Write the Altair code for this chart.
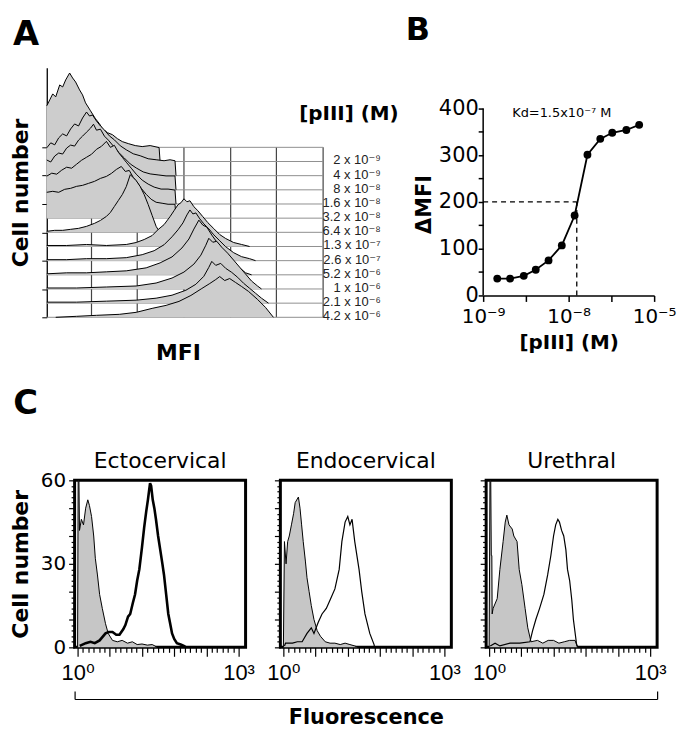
import altair as alt
import pandas as pd

FONT = "DejaVu Sans"
NUM_FONT = "Liberation Sans, DejaVu Sans"

# ---------------- Panel A : stacked MFI histograms ----------------
A_ROWS = [171, 156.75, 142.5, 128.25, 114, 99.75, 85.5, 71.25, 57, 42.75, 28.5, 14.25, 0]
A_VGRID = [45, 91, 138, 185, 231, 278]
A_CONC = ["2 x 10⁻⁹", "4 x 10⁻⁹", "8 x 10⁻⁸", "1.6 x 10⁻⁸", "3.2 x 10⁻⁸", "6.4 x 10⁻⁸",
          "1.3 x 10⁻⁷", "2.6 x 10⁻⁷", "5.2 x 10⁻⁶", "1 x 10⁻⁶", "2.1 x 10⁻⁶", "4.2 x 10⁻⁶"]

H0_MFI = [0, 3, 6, 9, 13, 16, 19, 23, 26, 29, 33, 36, 39, 44, 49, 53, 56, 61, 66, 71, 76, 82, 89, 96, 104, 113, 114]
H0_CELLS = [56, 62, 68, 65, 77, 75, 82, 89, 84, 80, 72, 67, 59, 51, 43, 38, 33, 29, 27, 23, 20, 18, 16, 15, 16, 14, 0]
H1_MFI = [0, 4, 8, 12, 16, 20, 24, 28, 32, 36, 40, 43, 46, 50, 54, 58, 63, 68, 74, 80, 87, 94, 102, 110, 118, 124, 129, 130]
H1_CELLS = [28, 33, 31, 38, 42, 40, 47, 52, 50, 58, 64, 60, 61, 55, 50, 46, 40, 36, 30, 26, 22, 20, 17, 16, 15, 16, 15, 0]
H2_MFI = [0, 4, 8, 12, 16, 20, 24, 28, 32, 36, 40, 44, 47, 50, 54, 58, 62, 67, 72, 78, 84, 90, 97, 104, 112, 120, 129, 130]
H2_CELLS = [30, 28, 34, 37, 36, 42, 45, 44, 50, 54, 58, 62, 66, 60, 61, 54, 50, 44, 38, 32, 26, 22, 18, 16, 15, 14, 14, 0]
H3_MFI = [0, 5, 10, 15, 20, 25, 30, 35, 40, 45, 50, 55, 60, 64, 68, 72, 76, 80, 85, 90, 96, 102, 108, 115, 122, 129, 130]
H3_CELLS = [28, 31, 30, 34, 37, 36, 40, 44, 47, 50, 55, 58, 63, 57, 59, 52, 47, 42, 36, 30, 24, 20, 17, 15, 15, 14, 0]
H4_MFI = [0, 6, 12, 18, 24, 30, 36, 42, 48, 54, 60, 65, 70, 75, 79, 83, 87, 91, 95, 100, 105, 110, 116, 122, 129, 130]
H4_CELLS = [26, 27, 26, 29, 30, 32, 33, 35, 37, 40, 42, 45, 49, 52, 47, 48, 41, 36, 30, 24, 19, 16, 15, 14, 14, 0]
H5_MFI = [0, 8, 16, 24, 32, 40, 48, 54, 60, 64, 68, 72, 76, 80, 84, 87, 90, 94, 98, 102, 106, 110, 113, 120, 130, 140, 150]
H5_CELLS = [1, 2, 2, 3, 4, 6, 9, 12, 16, 20, 26, 32, 38, 46, 58, 55, 52, 46, 38, 28, 17, 6, 1, 1, 1, 1, 0]
H6_MFI = [0, 20, 40, 60, 80, 90, 98, 106, 112, 118, 124, 128, 132, 135, 138, 141, 144, 148, 152, 157, 162, 168, 174, 180, 188, 196, 204]
H6_CELLS = [1, 1, 2, 1, 2, 4, 7, 11, 17, 22, 30, 36, 42, 44, 48, 45, 46, 40, 36, 30, 24, 18, 12, 8, 4, 2, 0]
H7_MFI = [0, 20, 40, 60, 80, 96, 108, 118, 126, 132, 137, 141, 144, 147, 150, 154, 158, 163, 168, 174, 180, 188, 196, 204, 210]
H7_CELLS = [1, 1, 2, 2, 3, 6, 10, 16, 24, 31, 38, 46, 51, 47, 48, 42, 37, 32, 26, 20, 14, 8, 4, 2, 0]
H8_MFI = [0, 20, 40, 60, 80, 100, 114, 126, 136, 143, 148, 153, 157, 161, 166, 171, 176, 182, 188, 194, 200, 206]
H8_CELLS = [1, 2, 2, 3, 4, 7, 12, 18, 27, 36, 46, 55, 50, 48, 40, 33, 26, 19, 13, 7, 2, 0]
H9_MFI = [0, 30, 60, 90, 110, 126, 138, 148, 155, 160, 163, 167, 171, 176, 182, 188, 194, 200, 206, 212, 216]
H9_CELLS = [1, 1, 2, 3, 6, 11, 17, 25, 34, 44, 51, 47, 48, 42, 36, 29, 22, 15, 8, 3, 0]
H10_MFI = [0, 30, 60, 90, 110, 126, 140, 150, 158, 163, 166, 170, 175, 180, 186, 192, 198, 204, 210, 216, 223]
H10_CELLS = [1, 1, 2, 3, 5, 8, 13, 19, 27, 36, 42, 38, 40, 35, 31, 26, 20, 15, 10, 5, 0]
H11_MFI = [9, 30, 50, 73, 90, 106, 120, 133, 145, 156, 164, 170, 174, 179, 184, 190, 196, 203, 212, 220, 228]
H11_CELLS = [0, 1, 2, 3, 5, 9, 12, 16, 22, 29, 34, 38, 41, 37, 39, 35, 31, 26, 18, 10, 0]

A_HISTS = [(H0_MFI, H0_CELLS), (H1_MFI, H1_CELLS), (H2_MFI, H2_CELLS), (H3_MFI, H3_CELLS),
           (H4_MFI, H4_CELLS), (H5_MFI, H5_CELLS), (H6_MFI, H6_CELLS), (H7_MFI, H7_CELLS),
           (H8_MFI, H8_CELLS), (H9_MFI, H9_CELLS), (H10_MFI, H10_CELLS), (H11_MFI, H11_CELLS)]

# ---------------- Panel B : titration curve ----------------
B_CONC_POS = [0.33, 0.63, 0.95, 1.23, 1.53, 1.84, 2.14, 2.44, 2.74, 3.02, 3.35, 3.65]
B_DMFI = [36, 36, 42, 55, 75, 107, 171, 301, 335, 348, 354, 365]
B_TICKS = [0, 1, 2, 3, 4]
B_TICK_LABELS = ["10⁻⁹", "", "10⁻⁸", "", "10⁻⁵"]
B_YTICKS = [0, 50, 100, 150, 200, 250, 300, 350, 400]
KD_POS = 2.19
KD_HALF = 200
KD_TEXT = "Kd=1.5x10⁻⁷ M"

# ---------------- Panel C : flow histograms (log10 fluorescence) ----------------
C_TICKS = [round(0.1 * k, 1) for k in range(31)]
C_YTICKS = list(range(0, 61, 2))
C_NAMES = ["Ectocervical", "Endocervical", "Urethral"]

ECTO_CTRL_X = [0.0, 0.01, 0.025, 0.035, 0.07, 0.11, 0.15, 0.19, 0.22, 0.26, 0.30, 0.33, 0.37, 0.41, 0.46,
               0.52, 0.57, 0.65, 0.74, 0.83, 0.93, 1.02, 1.11, 1.20, 1.30, 1.39, 1.44, 1.48]
ECTO_CTRL_N = [0, 60, 60, 42, 46, 44, 50, 53, 51, 47, 40, 32, 26, 19, 14,
               8.5, 5, 2.5, 2, 2.5, 1.5, 2, 1, 1.2, 0.8, 1, 0.5, 0]
ECTO_PIII_X = [0.04, 0.15, 0.24, 0.32, 0.41, 0.52, 0.58, 0.65, 0.72, 0.78, 0.85, 0.89, 0.94, 0.98, 1.03,
               1.07, 1.11, 1.15, 1.20, 1.24, 1.28, 1.31, 1.33, 1.35, 1.37, 1.40, 1.43, 1.46, 1.50, 1.54,
               1.58, 1.61, 1.65, 1.69, 1.72, 1.76, 1.80, 1.85, 1.92, 1.98, 2.02]
ECTO_PIII_N = [0.5, 1.5, 2, 1.5, 2.5, 5, 5.5, 5.5, 4.5, 4.5, 6.5, 8, 11, 12, 16,
               19, 24, 28, 36, 43, 49, 53, 56, 59, 58, 53, 50, 46, 40, 35,
               30, 26, 19, 12, 9, 5, 3, 1.5, 1, 0.5, 0]

ENDO_CTRL_X = [0.0, 0.02, 0.05, 0.08, 0.11, 0.15, 0.19, 0.22, 0.28, 0.31, 0.34, 0.37, 0.41, 0.44, 0.48,
               0.52, 0.57, 0.63, 0.69, 0.78, 0.87, 0.96, 1.06, 1.15, 1.24, 1.33, 1.39]
ENDO_CTRL_N = [0, 38, 30, 38, 40, 44, 48, 52, 54, 50, 44, 38, 31, 25, 20,
               15, 10, 6, 4, 2, 1.5, 1.5, 1, 1.5, 1, 0.5, 0]
ENDO_PIII_X = [0.02, 0.04, 0.17, 0.26, 0.35, 0.44, 0.52, 0.57, 0.65, 0.72, 0.80, 0.87, 0.96, 1.04, 1.09,
               1.15, 1.20, 1.24, 1.28, 1.33, 1.41, 1.46, 1.52, 1.61, 1.69, 1.70]
ENDO_PIII_N = [0.5, 1.5, 1.5, 2, 2, 5, 7, 5, 9, 12, 14, 17, 21, 28, 38,
               45, 47, 44, 46, 38, 28, 20, 12, 5, 1, 0]

URE_CTRL_X = [0.0, 0.015, 0.03, 0.04, 0.05, 0.056, 0.074, 0.15, 0.20, 0.26, 0.30, 0.33, 0.37, 0.43, 0.46,
              0.52, 0.56, 0.61, 0.67, 0.72, 0.78, 0.90, 1.00, 1.10, 1.20, 1.30, 1.40, 1.50, 1.60, 1.65]
URE_CTRL_N = [0, 60, 60, 33, 33, 12, 14, 17.5, 28, 38, 45, 47.5, 44, 42.5, 40,
              38, 28, 22.5, 14, 7, 2, 2.5, 1.5, 2.5, 2.5, 1.5, 2, 2.5, 2.5, 0]
URE_PIII_X = [0.02, 0.11, 0.20, 0.39, 0.57, 0.76, 0.81, 0.87, 0.94, 1.02, 1.09, 1.15, 1.20, 1.24, 1.28,
              1.31, 1.35, 1.39, 1.43, 1.46, 1.50, 1.54, 1.57, 1.61, 1.63, 1.65]
URE_PIII_N = [0.5, 1.5, 0.5, 1.5, 1.5, 2, 6, 10, 14, 19, 26, 33, 40, 44, 46,
              45, 42, 40, 35, 28, 24, 17, 10, 4, 1, 0]

BRACKET_ENDS = [0, 1]


def text_layer(x, y, t, enc_x, enc_y, **kw):
    return (alt.Chart(pd.DataFrame({"x": [x], "y": [y], "t": [t]}))
            .mark_text(**kw).encode(x=enc_x, y=enc_y, text="t:N"))


LETTER = dict(fontSize=34, fontWeight="bold", font=FONT, align="left", baseline="alphabetic", color="black")

# ================= Panel A chart =================
# the plot rectangle starts where the panels below start; the MFI axis origin sits 28 units further left
A_X0, A_X1 = 28, 278
A_AXIS_SHIFT = 28
A_Y1 = 251


def xA():
    return alt.X("x:Q", scale=alt.Scale(domain=[A_X0, A_X1], nice=False, zero=False),
                 axis=alt.Axis(title="MFI", domain=False, ticks=False, labels=False, grid=False,
                               titleFontSize=22, titleFontWeight="bold", titlePadding=25, titleX=104))


def yA():
    return alt.Y("y:Q", scale=alt.Scale(domain=[0, A_Y1], nice=False, zero=False),
                 axis=alt.Axis(title="Cell number", values=A_ROWS[::2], labels=False, tickSize=5,
                               offset=A_AXIS_SHIFT, tickColor="black", domainColor="black", domainWidth=1.3,
                               grid=False, titleFontSize=22, titleFontWeight="bold", titlePadding=9))


a_layers = []
a_layers.append(
    alt.Chart(pd.DataFrame({"x": A_VGRID, "y": [0] * len(A_VGRID), "y2": [A_ROWS[0]] * len(A_VGRID)}))
    .mark_rule(color="#444444", strokeWidth=1.2)
    .encode(x=xA(), y=yA(), y2="y2:Q")
)
a_layers.append(
    alt.Chart(pd.DataFrame({"y": A_ROWS, "x": [0] * len(A_ROWS), "x2": [A_VGRID[-1]] * len(A_ROWS)}))
    .mark_rule(color="#8f8f8f", strokeWidth=1)
    .encode(x=xA(), x2="x2:Q", y=yA())
)
for k, (mfi, cells) in enumerate(A_HISTS):
    base = A_ROWS[k + 1]
    df = pd.DataFrame({"x": mfi, "y": [base + c for c in cells], "y2": [base] * len(mfi)})
    a_layers.append(alt.Chart(df).mark_area(color="#cdcdcd", opacity=1).encode(x=xA(), y=yA(), y2="y2:Q"))
    a_layers.append(alt.Chart(df).mark_line(color="black", strokeWidth=1).encode(x=xA(), y=yA()))

LABEL_COL = 336
a_layers.append(
    alt.Chart(pd.DataFrame({"x": [LABEL_COL] * len(A_CONC), "y": A_ROWS[1:], "t": A_CONC}))
    .mark_text(align="right", baseline="middle", fontSize=13, font=NUM_FONT, color="#222222", dy=-1)
    .encode(x=xA(), y=yA(), text="t:N")
)
a_layers.append(text_layer(304, 204, "[pIII] (M)", xA(), yA(), align="center", baseline="middle",
                           fontSize=20, fontWeight="bold", font=FONT, color="black"))
a_layers.append(text_layer(-34, 274, "A", xA(), yA(), **LETTER))

panelA = alt.layer(*a_layers).properties(width=250, height=251)

# ================= Panel B chart =================
b_expr = " : ".join(f"datum.value === {v} ? '{lab}'" for v, lab in zip(B_TICKS, B_TICK_LABELS) if lab) + " : ''"


def xB():
    return alt.X("x:Q", scale=alt.Scale(domain=[B_TICKS[0], B_TICKS[-1]], nice=False, zero=False),
                 axis=alt.Axis(values=B_TICKS, labelExpr=b_expr, tickSize=6, tickWidth=1.5, domainWidth=1.5,
                               domainColor="black", tickColor="black", labelFontSize=20, labelPadding=5,
                               labelFlush=False, labelOverlap=False, grid=False,
                               title="[pIII] (M)", titleFontSize=20, titleFontWeight="bold", titlePadding=6))


def yB():
    return alt.Y("y:Q", scale=alt.Scale(domain=[0, 487], nice=False, zero=False),
                 axis=alt.Axis(values=B_YTICKS, labelExpr="datum.value % 100 === 0 ? datum.label : ''",
                               domain=False, tickSize=5, tickWidth=1.5, tickColor="black", labelFontSize=21,
                               labelPadding=0, labelOverlap=False, grid=False,
                               title="ΔMFI", titleFontSize=21, titleFontWeight="bold", titlePadding=4,
                               titleY=137))


b_layers = [
    alt.Chart(pd.DataFrame({"x": [0], "y": [0], "y2": [B_YTICKS[-1]]}))
    .mark_rule(color="black", strokeWidth=1.5).encode(x=xB(), y=yB(), y2="y2:Q"),
    alt.Chart(pd.DataFrame({"x": [0], "x2": [KD_POS], "y": [KD_HALF]}))
    .mark_rule(color="black", strokeWidth=1.3, strokeDash=[5, 4]).encode(x=xB(), x2="x2:Q", y=yB()),
    alt.Chart(pd.DataFrame({"x": [KD_POS], "y": [0], "y2": [KD_HALF]}))
    .mark_rule(color="black", strokeWidth=1.3, strokeDash=[5, 4]).encode(x=xB(), y=yB(), y2="y2:Q"),
    alt.Chart(pd.DataFrame({"x": B_CONC_POS, "y": B_DMFI}))
    .mark_line(color="black", strokeWidth=1.8).encode(x=xB(), y=yB()),
    alt.Chart(pd.DataFrame({"x": B_CONC_POS, "y": B_DMFI}))
    .mark_circle(color="black", size=62, opacity=1).encode(x=xB(), y=yB()),
    text_layer(1.84, 391, KD_TEXT, xB(), yB(), fontSize=13, font=FONT, align="center",
               baseline="middle", color="black"),
    text_layer(-1.81, 547, "B", xB(), yB(), **dict(LETTER, fontSize=32)),
]
panelB = alt.layer(*b_layers).properties(width=172, height=229)

# ================= Panel C charts =================
c_xexpr = "datum.value === 0 ? '10⁰' : (datum.value === 3 ? '10³' : '')"
C_DOMAIN = [-0.056, 3.13]
C_MID = (C_DOMAIN[0] + C_DOMAIN[1]) / 2


def make_c(name, cx, cn, px, pn, pwidth, first):
    xc = alt.X("x:Q", scale=alt.Scale(domain=C_DOMAIN, nice=False, zero=False),
               axis=alt.Axis(values=C_TICKS, labelExpr=c_xexpr, domain=False, grid=False,
                             tickSize={"condition": {"test": "round(datum.value * 10) % 6 === 0", "value": 9},
                                       "value": 5},
                             tickColor="black", tickWidth=1.2, labelFont=NUM_FONT, labelFontSize=22,
                             labelPadding=6, labelFlush=False, labelOverlap=False, title=None))
    yc = alt.Y("y:Q", scale=alt.Scale(domain=[0, 60], nice=False, zero=True),
               axis=alt.Axis(values=C_YTICKS, labelExpr="datum.value % 30 === 0 ? datum.label : ''",
                             domain=False, grid=False, labels=first, labelFontSize=20, labelPadding=3,
                             labelOverlap=False,
                             tickSize={"condition": {"test": "datum.value % 10 === 0", "value": 6}, "value": 3.5},
                             tickColor="black", tickWidth=1.2,
                             title="Cell number" if first else None, titleFontSize=22,
                             titleFontWeight="bold", titlePadding=8))
    ctrl = pd.DataFrame({"x": cx, "y": cn})
    piii = pd.DataFrame({"x": px, "y": pn})
    layers = [
        alt.Chart(ctrl).mark_area(color="#c6c6c6", opacity=1).encode(x=xc, y=yc),
        alt.Chart(ctrl).mark_line(color="black", strokeWidth=1).encode(x=xc, y=yc),
        alt.Chart(piii).mark_line(color="black", strokeWidth=pwidth).encode(x=xc, y=yc),
        text_layer(C_MID, 64.3, name, xc, yc, fontSize=22, font=FONT, align="center",
                   baseline="alphabetic", color="black"),
    ]
    if first:
        layers.append(text_layer(-1.2, 83.9, "C", xc, yc, **LETTER))
    return alt.layer(*layers).properties(
        width=172, height=168,
        view=alt.ViewBackground(stroke="black", strokeWidth=3),
    )


C1 = make_c(C_NAMES[0], ECTO_CTRL_X, ECTO_CTRL_N, ECTO_PIII_X, ECTO_PIII_N, 2.6, True)
C2 = make_c(C_NAMES[1], ENDO_CTRL_X, ENDO_CTRL_N, ENDO_PIII_X, ENDO_PIII_N, 1.2, False)
C3 = make_c(C_NAMES[2], URE_CTRL_X, URE_CTRL_N, URE_PIII_X, URE_PIII_N, 1.2, False)

# bracket under the three panels with the shared "Fluorescence" label
bracket = alt.Chart(pd.DataFrame({"x": BRACKET_ENDS})).mark_point(opacity=0).encode(
    x=alt.X("x:Q", scale=alt.Scale(domain=BRACKET_ENDS, nice=False, zero=False),
            axis=alt.Axis(orient="top", values=BRACKET_ENDS, labels=False, grid=False, tickSize=8,
                          tickColor="black", domainColor="black", tickWidth=1.2, domainWidth=1.2,
                          title="Fluorescence", titleFontSize=21, titleFontWeight="bold",
                          titleY=19, titleBaseline="middle")),
).properties(width=586, height=1)

row1 = alt.hconcat(panelA, panelB, spacing=161, bounds="flush")
c_row = alt.hconcat(C1, C2, C3, spacing=35, bounds="flush")
lower = alt.vconcat(c_row, bracket, spacing=4)

chart = (
    alt.vconcat(row1, lower, spacing=21)
    .properties(padding={"left": 0, "top": 3, "right": 0, "bottom": 0})
    .configure_view(stroke="transparent")
    .configure_axis(labelFont=FONT, titleFont=FONT, labelColor="black", titleColor="black")
    .configure_text(font=FONT)
)

chart.save("out.html", embed_options={"renderer": "svg", "actions": False})
